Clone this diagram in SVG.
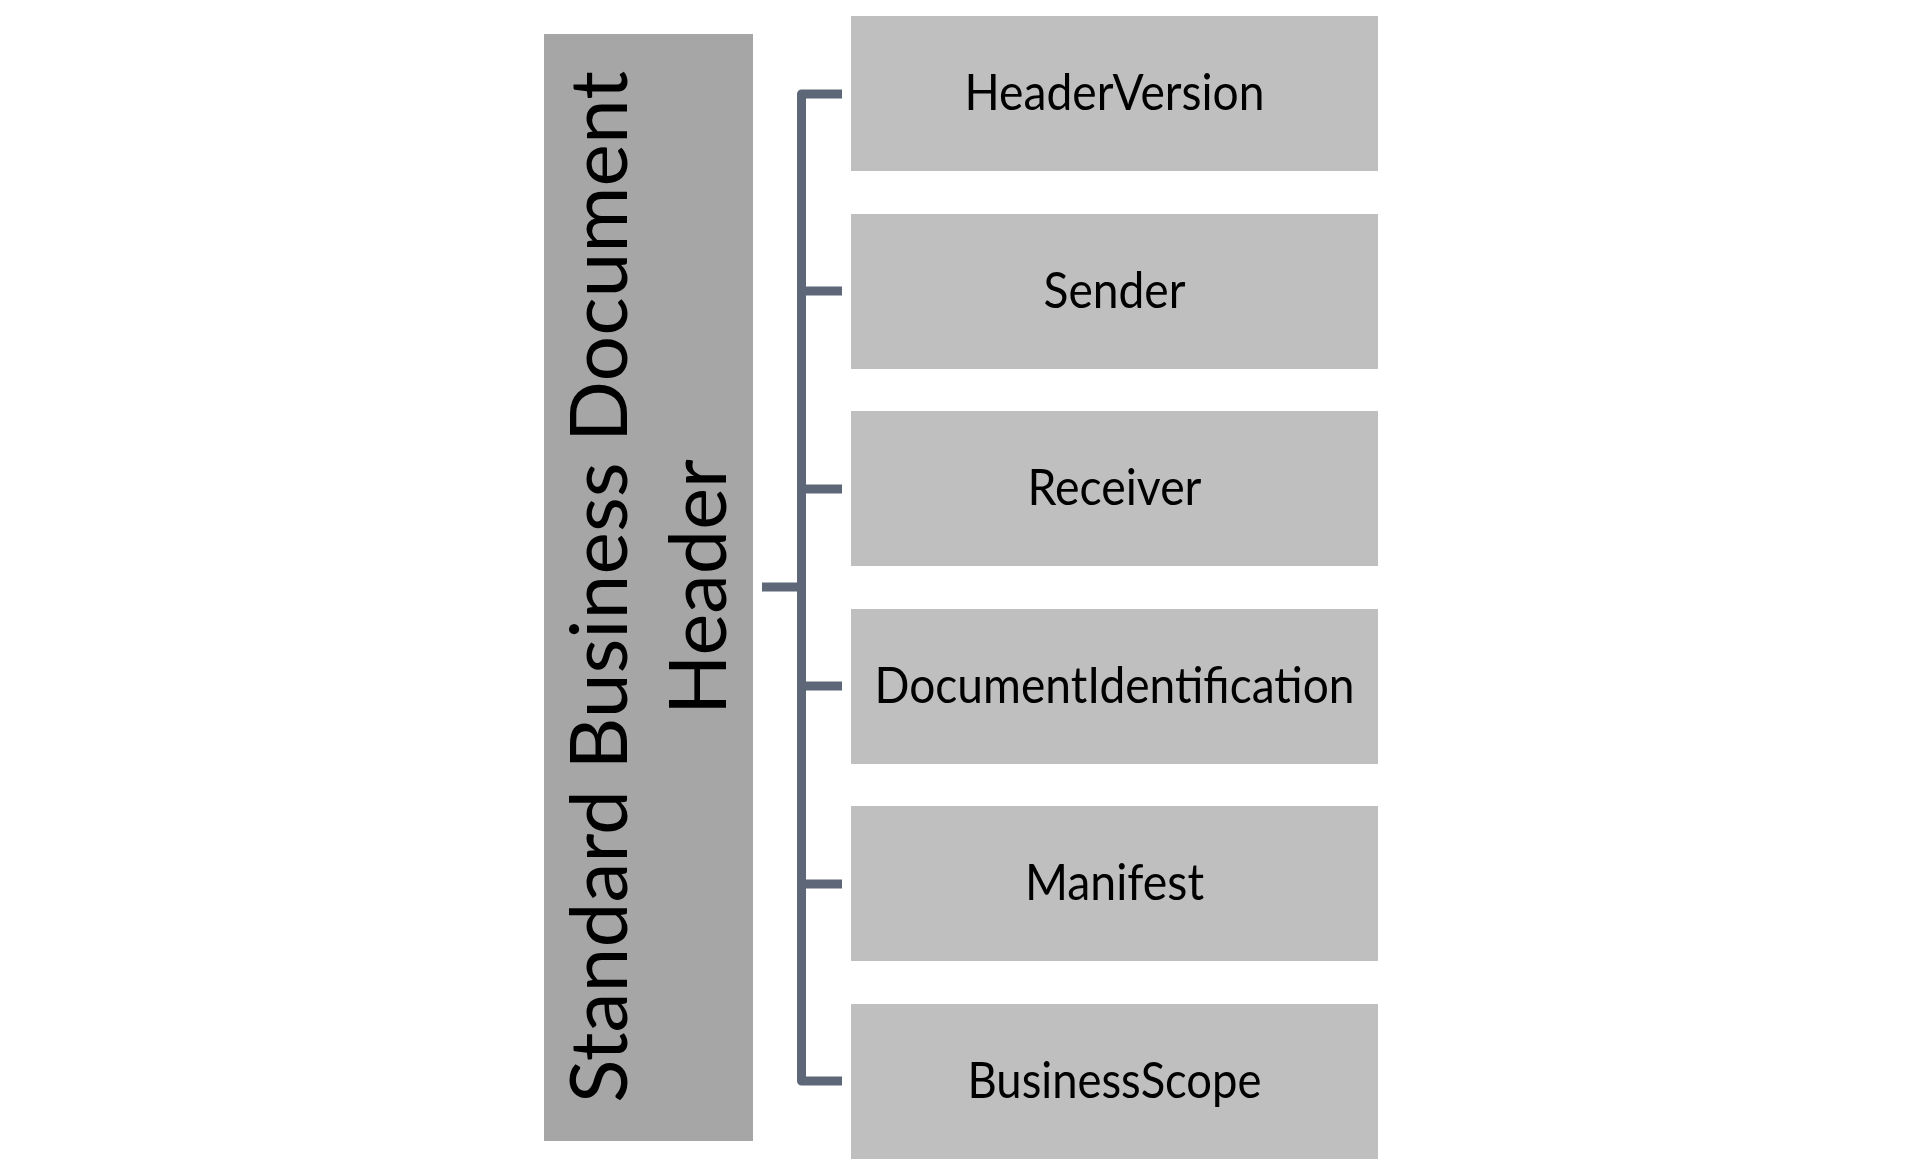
<svg xmlns="http://www.w3.org/2000/svg" width="1922" height="1167" viewBox="0 0 1922 1167">
<style>
.bg{fill:#FFFFFF}
.root{fill:#A6A6A6}
.child{fill:#BFBFBF}
.lbl{font-family:Lato,"Open Sans","Liberation Sans",sans-serif;font-size:51px;fill:#000;text-anchor:middle}
.vlbl{font-family:Lato,"Open Sans","Liberation Sans",sans-serif;font-size:80px;fill:#000;text-anchor:middle}
.conn{fill:none;stroke:#5E6778;stroke-width:9;stroke-linejoin:round}
</style>
<rect class="bg" x="0" y="0" width="1922" height="1167"/>
<g id="node-sbdh">
<rect class="root" x="544" y="34" width="209" height="1107"/>
<text class="vlbl" transform="translate(627,587) rotate(-90)" textLength="1032" lengthAdjust="spacingAndGlyphs">Standard Business Document</text>
<text class="vlbl" transform="translate(726,587) rotate(-90)" textLength="256" lengthAdjust="spacingAndGlyphs">Header</text>
</g>
<g id="connectors">
<path class="conn" d="M842,94 H801.5 V1081 H842"/>
<path class="conn" d="M801.5,291 H842 M801.5,489 H842 M801.5,686 H842 M801.5,884 H842"/>
<path class="conn" d="M762,587 H801.5"/>
</g>
<g id="node-headerversion">
<rect class="child" x="851" y="16" width="527" height="155"/>
<text class="lbl" x="1114.5" y="110" textLength="300" lengthAdjust="spacingAndGlyphs">HeaderVersion</text>
</g>
<g id="node-sender">
<rect class="child" x="851" y="214" width="527" height="155"/>
<text class="lbl" x="1114.5" y="308" textLength="142" lengthAdjust="spacingAndGlyphs">Sender</text>
</g>
<g id="node-receiver">
<rect class="child" x="851" y="411" width="527" height="155"/>
<text class="lbl" x="1114.5" y="505" textLength="174" lengthAdjust="spacingAndGlyphs">Receiver</text>
</g>
<g id="node-documentidentification">
<rect class="child" x="851" y="609" width="527" height="155"/>
<text class="lbl" x="1114.5" y="703" textLength="480" lengthAdjust="spacingAndGlyphs">DocumentIdentification</text>
</g>
<g id="node-manifest">
<rect class="child" x="851" y="806" width="527" height="155"/>
<text class="lbl" x="1114.5" y="900" textLength="179" lengthAdjust="spacingAndGlyphs">Manifest</text>
</g>
<g id="node-businessscope">
<rect class="child" x="851" y="1004" width="527" height="155"/>
<text class="lbl" x="1114.5" y="1098" textLength="294" lengthAdjust="spacingAndGlyphs">BusinessScope</text>
</g>
</svg>
